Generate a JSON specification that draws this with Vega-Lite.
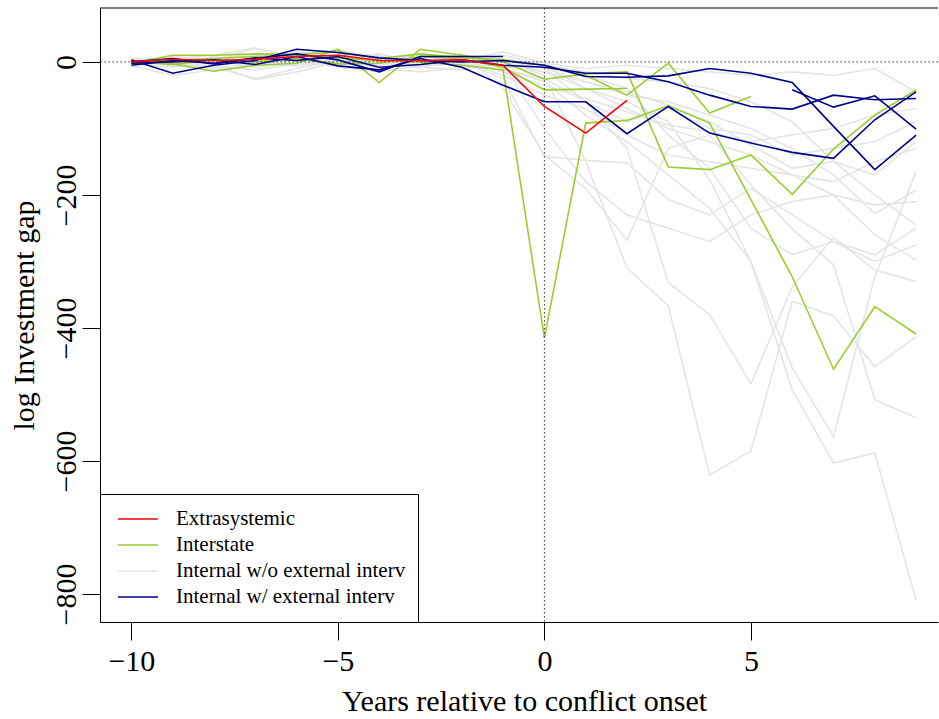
{
"$schema": "https://vega.github.io/schema/vega-lite/v6.json",
"width": 838, "height": 614,
"autosize": {"type": "none"},
"padding": {"left": 100, "top": 8, "right": 1, "bottom": 97},
"datasets": {"main": [
{"s":"n1","k":"N","t":-10,"v":2},{"s":"n1","k":"N","t":-9,"v":-5},{"s":"n1","k":"N","t":-8,"v":8},{"s":"n1","k":"N","t":-7,"v":-3},{"s":"n1","k":"N","t":-6,"v":10},{"s":"n1","k":"N","t":-5,"v":5},{"s":"n1","k":"N","t":-4,"v":12},{"s":"n1","k":"N","t":-3,"v":-2},{"s":"n1","k":"N","t":-2,"v":4},{"s":"n1","k":"N","t":-1,"v":3},{"s":"n1","k":"N","t":0,"v":-5},{"s":"n1","k":"N","t":1,"v":-40},{"s":"n1","k":"N","t":2,"v":-60},{"s":"n1","k":"N","t":3,"v":-90},{"s":"n1","k":"N","t":4,"v":-177},{"s":"n1","k":"N","t":5,"v":-300},{"s":"n1","k":"N","t":6,"v":-493},{"s":"n1","k":"N","t":7,"v":-603},{"s":"n1","k":"N","t":8,"v":-588},{"s":"n1","k":"N","t":9,"v":-809},
{"s":"n2","k":"N","t":-10,"v":-3},{"s":"n2","k":"N","t":-9,"v":4},{"s":"n2","k":"N","t":-8,"v":-8},{"s":"n2","k":"N","t":-7,"v":-25},{"s":"n2","k":"N","t":-6,"v":-10},{"s":"n2","k":"N","t":-5,"v":2},{"s":"n2","k":"N","t":-4,"v":-5},{"s":"n2","k":"N","t":-3,"v":6},{"s":"n2","k":"N","t":-2,"v":10},{"s":"n2","k":"N","t":-1,"v":0},{"s":"n2","k":"N","t":0,"v":-20},{"s":"n2","k":"N","t":1,"v":-150},{"s":"n2","k":"N","t":2,"v":-310},{"s":"n2","k":"N","t":3,"v":-367},{"s":"n2","k":"N","t":4,"v":-621},{"s":"n2","k":"N","t":5,"v":-585},{"s":"n2","k":"N","t":6,"v":-360},{"s":"n2","k":"N","t":7,"v":-382},{"s":"n2","k":"N","t":8,"v":-458},{"s":"n2","k":"N","t":9,"v":-413},
{"s":"n3","k":"N","t":-10,"v":5},{"s":"n3","k":"N","t":-9,"v":0},{"s":"n3","k":"N","t":-8,"v":3},{"s":"n3","k":"N","t":-7,"v":20},{"s":"n3","k":"N","t":-6,"v":8},{"s":"n3","k":"N","t":-5,"v":-4},{"s":"n3","k":"N","t":-4,"v":2},{"s":"n3","k":"N","t":-3,"v":-6},{"s":"n3","k":"N","t":-2,"v":-2},{"s":"n3","k":"N","t":-1,"v":5},{"s":"n3","k":"N","t":0,"v":-10},{"s":"n3","k":"N","t":1,"v":-60},{"s":"n3","k":"N","t":2,"v":-130},{"s":"n3","k":"N","t":3,"v":-332},{"s":"n3","k":"N","t":4,"v":-380},{"s":"n3","k":"N","t":5,"v":-484},{"s":"n3","k":"N","t":6,"v":-338},{"s":"n3","k":"N","t":7,"v":-264},{"s":"n3","k":"N","t":8,"v":-313},{"s":"n3","k":"N","t":9,"v":-330},
{"s":"n4","k":"N","t":-10,"v":-6},{"s":"n4","k":"N","t":-9,"v":-20},{"s":"n4","k":"N","t":-8,"v":-12},{"s":"n4","k":"N","t":-7,"v":-5},{"s":"n4","k":"N","t":-6,"v":4},{"s":"n4","k":"N","t":-5,"v":10},{"s":"n4","k":"N","t":-4,"v":3},{"s":"n4","k":"N","t":-3,"v":0},{"s":"n4","k":"N","t":-2,"v":12},{"s":"n4","k":"N","t":-1,"v":-40},{"s":"n4","k":"N","t":0,"v":-140},{"s":"n4","k":"N","t":1,"v":-190},{"s":"n4","k":"N","t":2,"v":-268},{"s":"n4","k":"N","t":3,"v":-130},{"s":"n4","k":"N","t":4,"v":-110},{"s":"n4","k":"N","t":5,"v":-185},{"s":"n4","k":"N","t":6,"v":-251},{"s":"n4","k":"N","t":7,"v":-305},{"s":"n4","k":"N","t":8,"v":-508},{"s":"n4","k":"N","t":9,"v":-535},
{"s":"n5","k":"N","t":-10,"v":0},{"s":"n5","k":"N","t":-9,"v":6},{"s":"n5","k":"N","t":-8,"v":-4},{"s":"n5","k":"N","t":-7,"v":-27},{"s":"n5","k":"N","t":-6,"v":-15},{"s":"n5","k":"N","t":-5,"v":0},{"s":"n5","k":"N","t":-4,"v":8},{"s":"n5","k":"N","t":-3,"v":4},{"s":"n5","k":"N","t":-2,"v":-8},{"s":"n5","k":"N","t":-1,"v":-10},{"s":"n5","k":"N","t":0,"v":-30},{"s":"n5","k":"N","t":1,"v":-80},{"s":"n5","k":"N","t":2,"v":-120},{"s":"n5","k":"N","t":3,"v":-170},{"s":"n5","k":"N","t":4,"v":-220},{"s":"n5","k":"N","t":5,"v":-300},{"s":"n5","k":"N","t":6,"v":-460},{"s":"n5","k":"N","t":7,"v":-563},{"s":"n5","k":"N","t":8,"v":-323},{"s":"n5","k":"N","t":9,"v":-165},
{"s":"n6","k":"N","t":-10,"v":4},{"s":"n6","k":"N","t":-9,"v":2},{"s":"n6","k":"N","t":-8,"v":6},{"s":"n6","k":"N","t":-7,"v":10},{"s":"n6","k":"N","t":-6,"v":2},{"s":"n6","k":"N","t":-5,"v":8},{"s":"n6","k":"N","t":-4,"v":0},{"s":"n6","k":"N","t":-3,"v":-3},{"s":"n6","k":"N","t":-2,"v":5},{"s":"n6","k":"N","t":-1,"v":2},{"s":"n6","k":"N","t":0,"v":-10},{"s":"n6","k":"N","t":1,"v":-30},{"s":"n6","k":"N","t":2,"v":-50},{"s":"n6","k":"N","t":3,"v":-60},{"s":"n6","k":"N","t":4,"v":-80},{"s":"n6","k":"N","t":5,"v":-100},{"s":"n6","k":"N","t":6,"v":-130},{"s":"n6","k":"N","t":7,"v":-170},{"s":"n6","k":"N","t":8,"v":-228},{"s":"n6","k":"N","t":9,"v":-193},
{"s":"n7","k":"N","t":-10,"v":-2},{"s":"n7","k":"N","t":-9,"v":-8},{"s":"n7","k":"N","t":-8,"v":0},{"s":"n7","k":"N","t":-7,"v":5},{"s":"n7","k":"N","t":-6,"v":15},{"s":"n7","k":"N","t":-5,"v":6},{"s":"n7","k":"N","t":-4,"v":-2},{"s":"n7","k":"N","t":-3,"v":3},{"s":"n7","k":"N","t":-2,"v":-4},{"s":"n7","k":"N","t":-1,"v":10},{"s":"n7","k":"N","t":0,"v":-5},{"s":"n7","k":"N","t":1,"v":-15},{"s":"n7","k":"N","t":2,"v":-25},{"s":"n7","k":"N","t":3,"v":-30},{"s":"n7","k":"N","t":4,"v":-40},{"s":"n7","k":"N","t":5,"v":-60},{"s":"n7","k":"N","t":6,"v":-90},{"s":"n7","k":"N","t":7,"v":-150},{"s":"n7","k":"N","t":8,"v":-200},{"s":"n7","k":"N","t":9,"v":-245},
{"s":"n8","k":"N","t":-10,"v":3},{"s":"n8","k":"N","t":-9,"v":-3},{"s":"n8","k":"N","t":-8,"v":-6},{"s":"n8","k":"N","t":-7,"v":-12},{"s":"n8","k":"N","t":-6,"v":-3},{"s":"n8","k":"N","t":-5,"v":4},{"s":"n8","k":"N","t":-4,"v":-10},{"s":"n8","k":"N","t":-3,"v":-15},{"s":"n8","k":"N","t":-2,"v":-8},{"s":"n8","k":"N","t":-1,"v":-5},{"s":"n8","k":"N","t":0,"v":-15},{"s":"n8","k":"N","t":1,"v":-40},{"s":"n8","k":"N","t":2,"v":-70},{"s":"n8","k":"N","t":3,"v":-100},{"s":"n8","k":"N","t":4,"v":-120},{"s":"n8","k":"N","t":5,"v":-140},{"s":"n8","k":"N","t":6,"v":-170},{"s":"n8","k":"N","t":7,"v":-200},{"s":"n8","k":"N","t":8,"v":-260},{"s":"n8","k":"N","t":9,"v":-298},
{"s":"n9","k":"N","t":-10,"v":1},{"s":"n9","k":"N","t":-9,"v":3},{"s":"n9","k":"N","t":-8,"v":5},{"s":"n9","k":"N","t":-7,"v":2},{"s":"n9","k":"N","t":-6,"v":6},{"s":"n9","k":"N","t":-5,"v":3},{"s":"n9","k":"N","t":-4,"v":1},{"s":"n9","k":"N","t":-3,"v":4},{"s":"n9","k":"N","t":-2,"v":2},{"s":"n9","k":"N","t":-1,"v":15},{"s":"n9","k":"N","t":0,"v":-2},{"s":"n9","k":"N","t":1,"v":-10},{"s":"n9","k":"N","t":2,"v":-5},{"s":"n9","k":"N","t":3,"v":-10},{"s":"n9","k":"N","t":4,"v":-15},{"s":"n9","k":"N","t":5,"v":-20},{"s":"n9","k":"N","t":6,"v":-15},{"s":"n9","k":"N","t":7,"v":-20},{"s":"n9","k":"N","t":8,"v":-10},{"s":"n9","k":"N","t":9,"v":-45},
{"s":"n10","k":"N","t":-10,"v":-4},{"s":"n10","k":"N","t":-9,"v":0},{"s":"n10","k":"N","t":-8,"v":-2},{"s":"n10","k":"N","t":-7,"v":8},{"s":"n10","k":"N","t":-6,"v":12},{"s":"n10","k":"N","t":-5,"v":18},{"s":"n10","k":"N","t":-4,"v":5},{"s":"n10","k":"N","t":-3,"v":2},{"s":"n10","k":"N","t":-2,"v":-3},{"s":"n10","k":"N","t":-1,"v":-12},{"s":"n10","k":"N","t":0,"v":-25},{"s":"n10","k":"N","t":1,"v":-60},{"s":"n10","k":"N","t":2,"v":-90},{"s":"n10","k":"N","t":3,"v":-70},{"s":"n10","k":"N","t":4,"v":-100},{"s":"n10","k":"N","t":5,"v":-110},{"s":"n10","k":"N","t":6,"v":-140},{"s":"n10","k":"N","t":7,"v":-130},{"s":"n10","k":"N","t":8,"v":-120},{"s":"n10","k":"N","t":9,"v":-90},
{"s":"n11","k":"N","t":-10,"v":6},{"s":"n11","k":"N","t":-9,"v":-6},{"s":"n11","k":"N","t":-8,"v":2},{"s":"n11","k":"N","t":-7,"v":-8},{"s":"n11","k":"N","t":-6,"v":0},{"s":"n11","k":"N","t":-5,"v":-5},{"s":"n11","k":"N","t":-4,"v":4},{"s":"n11","k":"N","t":-3,"v":8},{"s":"n11","k":"N","t":-2,"v":0},{"s":"n11","k":"N","t":-1,"v":-20},{"s":"n11","k":"N","t":0,"v":-50},{"s":"n11","k":"N","t":1,"v":-70},{"s":"n11","k":"N","t":2,"v":-110},{"s":"n11","k":"N","t":3,"v":-140},{"s":"n11","k":"N","t":4,"v":-150},{"s":"n11","k":"N","t":5,"v":-160},{"s":"n11","k":"N","t":6,"v":-170},{"s":"n11","k":"N","t":7,"v":-180},{"s":"n11","k":"N","t":8,"v":-150},{"s":"n11","k":"N","t":9,"v":-130},
{"s":"n12","k":"N","t":-10,"v":-1},{"s":"n12","k":"N","t":-9,"v":5},{"s":"n12","k":"N","t":-8,"v":10},{"s":"n12","k":"N","t":-7,"v":21},{"s":"n12","k":"N","t":-6,"v":4},{"s":"n12","k":"N","t":-5,"v":0},{"s":"n12","k":"N","t":-4,"v":-4},{"s":"n12","k":"N","t":-3,"v":-2},{"s":"n12","k":"N","t":-2,"v":6},{"s":"n12","k":"N","t":-1,"v":-8},{"s":"n12","k":"N","t":0,"v":-8},{"s":"n12","k":"N","t":1,"v":-20},{"s":"n12","k":"N","t":2,"v":-40},{"s":"n12","k":"N","t":3,"v":-110},{"s":"n12","k":"N","t":4,"v":-160},{"s":"n12","k":"N","t":5,"v":-250},{"s":"n12","k":"N","t":6,"v":-290},{"s":"n12","k":"N","t":7,"v":-270},{"s":"n12","k":"N","t":8,"v":-300},{"s":"n12","k":"N","t":9,"v":-275},
{"s":"n13","k":"N","t":-10,"v":0},{"s":"n13","k":"N","t":-9,"v":-2},{"s":"n13","k":"N","t":-8,"v":-10},{"s":"n13","k":"N","t":-7,"v":-3},{"s":"n13","k":"N","t":-6,"v":-6},{"s":"n13","k":"N","t":-5,"v":2},{"s":"n13","k":"N","t":-4,"v":6},{"s":"n13","k":"N","t":-3,"v":10},{"s":"n13","k":"N","t":-2,"v":3},{"s":"n13","k":"N","t":-1,"v":-15},{"s":"n13","k":"N","t":0,"v":-35},{"s":"n13","k":"N","t":1,"v":-55},{"s":"n13","k":"N","t":2,"v":-75},{"s":"n13","k":"N","t":3,"v":-95},{"s":"n13","k":"N","t":4,"v":-105},{"s":"n13","k":"N","t":5,"v":-120},{"s":"n13","k":"N","t":6,"v":-110},{"s":"n13","k":"N","t":7,"v":-100},{"s":"n13","k":"N","t":8,"v":-80},{"s":"n13","k":"N","t":9,"v":-70},
{"s":"n14","k":"N","t":-10,"v":2},{"s":"n14","k":"N","t":-9,"v":8},{"s":"n14","k":"N","t":-8,"v":4},{"s":"n14","k":"N","t":-7,"v":-2},{"s":"n14","k":"N","t":-6,"v":3},{"s":"n14","k":"N","t":-5,"v":-8},{"s":"n14","k":"N","t":-4,"v":-15},{"s":"n14","k":"N","t":-3,"v":-5},{"s":"n14","k":"N","t":-2,"v":0},{"s":"n14","k":"N","t":-1,"v":-25},{"s":"n14","k":"N","t":0,"v":-142},{"s":"n14","k":"N","t":1,"v":-148},{"s":"n14","k":"N","t":2,"v":-152},{"s":"n14","k":"N","t":3,"v":-207},{"s":"n14","k":"N","t":4,"v":-230},{"s":"n14","k":"N","t":5,"v":-190},{"s":"n14","k":"N","t":6,"v":-230},{"s":"n14","k":"N","t":7,"v":-270},{"s":"n14","k":"N","t":8,"v":-290},{"s":"n14","k":"N","t":9,"v":-250},
{"s":"n15","k":"N","t":-10,"v":-5},{"s":"n15","k":"N","t":-9,"v":1},{"s":"n15","k":"N","t":-8,"v":-1},{"s":"n15","k":"N","t":-7,"v":6},{"s":"n15","k":"N","t":-6,"v":-4},{"s":"n15","k":"N","t":-5,"v":12},{"s":"n15","k":"N","t":-4,"v":9},{"s":"n15","k":"N","t":-3,"v":-8},{"s":"n15","k":"N","t":-2,"v":-12},{"s":"n15","k":"N","t":-1,"v":0},{"s":"n15","k":"N","t":0,"v":-15},{"s":"n15","k":"N","t":1,"v":-30},{"s":"n15","k":"N","t":2,"v":-45},{"s":"n15","k":"N","t":3,"v":-65},{"s":"n15","k":"N","t":4,"v":-90},{"s":"n15","k":"N","t":5,"v":-125},{"s":"n15","k":"N","t":6,"v":-160},{"s":"n15","k":"N","t":7,"v":-150},{"s":"n15","k":"N","t":8,"v":-170},{"s":"n15","k":"N","t":9,"v":-120},
{"s":"n16","k":"N","t":-10,"v":3},{"s":"n16","k":"N","t":-9,"v":-4},{"s":"n16","k":"N","t":-8,"v":7},{"s":"n16","k":"N","t":-7,"v":0},{"s":"n16","k":"N","t":-6,"v":-2},{"s":"n16","k":"N","t":-5,"v":-3},{"s":"n16","k":"N","t":-4,"v":2},{"s":"n16","k":"N","t":-3,"v":-10},{"s":"n16","k":"N","t":-2,"v":8},{"s":"n16","k":"N","t":-1,"v":-5},{"s":"n16","k":"N","t":0,"v":-100},{"s":"n16","k":"N","t":1,"v":-180},{"s":"n16","k":"N","t":2,"v":-230},{"s":"n16","k":"N","t":3,"v":-250},{"s":"n16","k":"N","t":4,"v":-270},{"s":"n16","k":"N","t":5,"v":-230},{"s":"n16","k":"N","t":6,"v":-210},{"s":"n16","k":"N","t":7,"v":-200},{"s":"n16","k":"N","t":8,"v":-215},{"s":"n16","k":"N","t":9,"v":-210},
{"s":"i1","k":"I","t":-10,"v":-3},{"s":"i1","k":"I","t":-9,"v":2},{"s":"i1","k":"I","t":-8,"v":5},{"s":"i1","k":"I","t":-7,"v":8},{"s":"i1","k":"I","t":-6,"v":10},{"s":"i1","k":"I","t":-5,"v":6},{"s":"i1","k":"I","t":-4,"v":2},{"s":"i1","k":"I","t":-3,"v":0},{"s":"i1","k":"I","t":-2,"v":-5},{"s":"i1","k":"I","t":-1,"v":-12},{"s":"i1","k":"I","t":0,"v":-415},{"s":"i1","k":"I","t":1,"v":-92},{"s":"i1","k":"I","t":2,"v":-88},{"s":"i1","k":"I","t":3,"v":-66},{"s":"i1","k":"I","t":4,"v":-92},{"s":"i1","k":"I","t":5,"v":-207},{"s":"i1","k":"I","t":6,"v":-323},{"s":"i1","k":"I","t":7,"v":-462},{"s":"i1","k":"I","t":8,"v":-368},{"s":"i1","k":"I","t":9,"v":-409},
{"s":"ia","k":"I","t":-10,"v":-2},{"s":"ia","k":"I","t":-9,"v":10},{"s":"ia","k":"I","t":-8,"v":10},{"s":"ia","k":"I","t":-7,"v":12},{"s":"ia","k":"I","t":-6,"v":11},{"s":"ia","k":"I","t":-5,"v":15},{"s":"ia","k":"I","t":-4,"v":5},{"s":"ia","k":"I","t":-3,"v":12},{"s":"ia","k":"I","t":-2,"v":6},{"s":"ia","k":"I","t":-1,"v":3},{"s":"ia","k":"I","t":0,"v":-5},{"s":"ia","k":"I","t":1,"v":-20},{"s":"ia","k":"I","t":2,"v":-50},{"s":"ia","k":"I","t":3,"v":-2},{"s":"ia","k":"I","t":4,"v":-77},{"s":"ia","k":"I","t":5,"v":-52},
{"s":"ib","k":"I","t":-10,"v":2},{"s":"ib","k":"I","t":-9,"v":-3},{"s":"ib","k":"I","t":-8,"v":-14},{"s":"ib","k":"I","t":-7,"v":-5},{"s":"ib","k":"I","t":-6,"v":-2},{"s":"ib","k":"I","t":-5,"v":19},{"s":"ib","k":"I","t":-4,"v":-31},{"s":"ib","k":"I","t":-3,"v":19},{"s":"ib","k":"I","t":-2,"v":10},{"s":"ib","k":"I","t":-1,"v":0},{"s":"ib","k":"I","t":0,"v":-26},{"s":"ib","k":"I","t":1,"v":-18},{"s":"ib","k":"I","t":2,"v":-15},{"s":"ib","k":"I","t":3,"v":-158},{"s":"ib","k":"I","t":4,"v":-162},{"s":"ib","k":"I","t":5,"v":-140},{"s":"ib","k":"I","t":6,"v":-199},{"s":"ib","k":"I","t":7,"v":-131},{"s":"ib","k":"I","t":8,"v":-80},{"s":"ib","k":"I","t":9,"v":-42},
{"s":"ic","k":"I","t":-10,"v":0},{"s":"ic","k":"I","t":-9,"v":-4},{"s":"ic","k":"I","t":-8,"v":3},{"s":"ic","k":"I","t":-7,"v":0},{"s":"ic","k":"I","t":-6,"v":5},{"s":"ic","k":"I","t":-5,"v":-3},{"s":"ic","k":"I","t":-4,"v":-2},{"s":"ic","k":"I","t":-3,"v":8},{"s":"ic","k":"I","t":-2,"v":4},{"s":"ic","k":"I","t":-1,"v":-8},{"s":"ic","k":"I","t":0,"v":-42},{"s":"ic","k":"I","t":1,"v":-41},{"s":"ic","k":"I","t":2,"v":-40},
{"s":"w1","k":"W","t":-10,"v":3},{"s":"w1","k":"W","t":-9,"v":-17},{"s":"w1","k":"W","t":-8,"v":-5},{"s":"w1","k":"W","t":-7,"v":2},{"s":"w1","k":"W","t":-6,"v":19},{"s":"w1","k":"W","t":-5,"v":14},{"s":"w1","k":"W","t":-4,"v":6},{"s":"w1","k":"W","t":-3,"v":2},{"s":"w1","k":"W","t":-2,"v":0},{"s":"w1","k":"W","t":-1,"v":2},{"s":"w1","k":"W","t":0,"v":-5},{"s":"w1","k":"W","t":1,"v":-22},{"s":"w1","k":"W","t":2,"v":-23},{"s":"w1","k":"W","t":3,"v":-21},{"s":"w1","k":"W","t":4,"v":-10},{"s":"w1","k":"W","t":5,"v":-17},{"s":"w1","k":"W","t":6,"v":-31},{"s":"w1","k":"W","t":7,"v":-97},{"s":"w1","k":"W","t":8,"v":-162},{"s":"w1","k":"W","t":9,"v":-110},
{"s":"w2","k":"W","t":-10,"v":-2},{"s":"w2","k":"W","t":-9,"v":0},{"s":"w2","k":"W","t":-8,"v":3},{"s":"w2","k":"W","t":-7,"v":-4},{"s":"w2","k":"W","t":-6,"v":8},{"s":"w2","k":"W","t":-5,"v":-6},{"s":"w2","k":"W","t":-4,"v":-12},{"s":"w2","k":"W","t":-3,"v":5},{"s":"w2","k":"W","t":-2,"v":-8},{"s":"w2","k":"W","t":-1,"v":-35},{"s":"w2","k":"W","t":0,"v":-60},{"s":"w2","k":"W","t":1,"v":-60},{"s":"w2","k":"W","t":2,"v":-108},{"s":"w2","k":"W","t":3,"v":-67},{"s":"w2","k":"W","t":4,"v":-107},{"s":"w2","k":"W","t":5,"v":-122},{"s":"w2","k":"W","t":6,"v":-136},{"s":"w2","k":"W","t":7,"v":-145},{"s":"w2","k":"W","t":8,"v":-87},{"s":"w2","k":"W","t":9,"v":-45},
{"s":"w3","k":"W","t":-10,"v":0},{"s":"w3","k":"W","t":-9,"v":5},{"s":"w3","k":"W","t":-8,"v":-3},{"s":"w3","k":"W","t":-7,"v":6},{"s":"w3","k":"W","t":-6,"v":2},{"s":"w3","k":"W","t":-5,"v":8},{"s":"w3","k":"W","t":-4,"v":-8},{"s":"w3","k":"W","t":-3,"v":-4},{"s":"w3","k":"W","t":-2,"v":3},{"s":"w3","k":"W","t":-1,"v":-5},{"s":"w3","k":"W","t":0,"v":-8},{"s":"w3","k":"W","t":1,"v":-17},{"s":"w3","k":"W","t":2,"v":-17},{"s":"w3","k":"W","t":3,"v":-30},{"s":"w3","k":"W","t":4,"v":-50},{"s":"w3","k":"W","t":5,"v":-67},{"s":"w3","k":"W","t":6,"v":-71},{"s":"w3","k":"W","t":7,"v":-50},{"s":"w3","k":"W","t":8,"v":-57},{"s":"w3","k":"W","t":9,"v":-55},
{"s":"w4","k":"W","t":6,"v":-42},{"s":"w4","k":"W","t":7,"v":-68},{"s":"w4","k":"W","t":8,"v":-51},{"s":"w4","k":"W","t":9,"v":-101},
{"s":"w5","k":"W","t":-10,"v":-5},{"s":"w5","k":"W","t":-9,"v":2},{"s":"w5","k":"W","t":-8,"v":-2},{"s":"w5","k":"W","t":-7,"v":5},{"s":"w5","k":"W","t":-6,"v":12},{"s":"w5","k":"W","t":-5,"v":3},{"s":"w5","k":"W","t":-4,"v":-15},{"s":"w5","k":"W","t":-3,"v":8},{"s":"w5","k":"W","t":-2,"v":8},{"s":"w5","k":"W","t":-1,"v":8},
{"s":"e1","k":"E","t":-10,"v":0},{"s":"e1","k":"E","t":-9,"v":4},{"s":"e1","k":"E","t":-8,"v":2},{"s":"e1","k":"E","t":-7,"v":4},{"s":"e1","k":"E","t":-6,"v":8},{"s":"e1","k":"E","t":-5,"v":10},{"s":"e1","k":"E","t":-4,"v":2},{"s":"e1","k":"E","t":-3,"v":2},{"s":"e1","k":"E","t":-2,"v":3},{"s":"e1","k":"E","t":-1,"v":-5},{"s":"e1","k":"E","t":0,"v":-67},{"s":"e1","k":"E","t":1,"v":-107},{"s":"e1","k":"E","t":2,"v":-58}
]},
"config": {
  "view": {"stroke": null},
  "font": "Liberation Serif",
  "axis": {"domainColor": "black", "tickColor": "black", "labelColor": "black", "titleColor": "black", "grid": false, "tickSize": 18, "labelFontSize": 30, "titleFontSize": 30, "titleFontWeight": "normal", "labelFont": "Liberation Serif", "titleFont": "Liberation Serif"},
  "legend": {"labelFont": "Liberation Serif", "labelColor": "black"}
},
"layer": [
  {
    "data": {"name": "main"},
    "transform": [{"filter": "datum.k === 'N'"}],
    "mark": {"type": "line", "strokeWidth": 1.6},
    "encoding": {
      "x": {"field": "t", "type": "quantitative", "scale": {"domain": [-10.76, 9.53], "nice": false, "zero": false},
            "axis": {"values": [-10, -5, 0, 5], "title": "Years relative to conflict onset", "labelPadding": 6, "titleX": 424, "titleY": 88, "titleBaseline": "alphabetic", "titleAlign": "center"}},
      "y": {"field": "v", "type": "quantitative", "scale": {"domain": [-842, 81], "nice": false, "zero": false},
            "axis": {"values": [0, -200, -400, -600, -800], "labelAngle": -90, "labelAlign": "center", "labelBaseline": "alphabetic", "labelPadding": 7, "title": "log Investment gap", "titleX": -67, "titleY": 307, "titleAngle": -90, "titleBaseline": "alphabetic", "titleAlign": "center"}},
      "color": {"field": "k", "type": "nominal",
                "scale": {"domain": ["E", "I", "N", "W"], "range": ["#FF0000", "#9ACD32", "#E5E5E5", "#00008B"]},
                "legend": {"orient": "bottom-left", "offset": 0, "title": null, "strokeColor": "black", "fillColor": "white", "padding": 12, "clipHeight": 26, "rowPadding": 0, "symbolType": "stroke", "symbolSize": 1600, "symbolStrokeWidth": 1.6, "labelFontSize": 21, "labelLimit": 0, "labelOffset": 17, "symbolOffset": 5,
                           "labelExpr": "{'E': 'Extrasystemic', 'I': 'Interstate', 'N': 'Internal w/o external interv', 'W': 'Internal w/ external interv'}[datum.label]"}},
      "detail": {"field": "s"}
    }
  },
  {
    "data": {"name": "main"},
    "transform": [{"filter": "datum.k !== 'N'"}],
    "mark": {"type": "line", "strokeWidth": 1.6},
    "encoding": {
      "x": {"field": "t", "type": "quantitative"},
      "y": {"field": "v", "type": "quantitative"},
      "color": {"field": "k", "type": "nominal"},
      "detail": {"field": "s"}
    }
  },
  {
    "data": {"values": [{"z": 0}]},
    "mark": {"type": "rule", "strokeDash": [1.5, 2.5], "color": "#333333", "strokeWidth": 1},
    "encoding": {"x": {"field": "z", "type": "quantitative"}}
  },
  {
    "data": {"values": [{"z": 0}]},
    "mark": {"type": "rule", "strokeDash": [1.5, 2.5], "color": "#333333", "strokeWidth": 1},
    "encoding": {"y": {"field": "z", "type": "quantitative"}}
  },
  {
    "data": {"values": [{"z": 81}]},
    "mark": {"type": "rule", "color": "black", "strokeWidth": 1},
    "encoding": {"y": {"field": "z", "type": "quantitative"}}
  }
]
}
